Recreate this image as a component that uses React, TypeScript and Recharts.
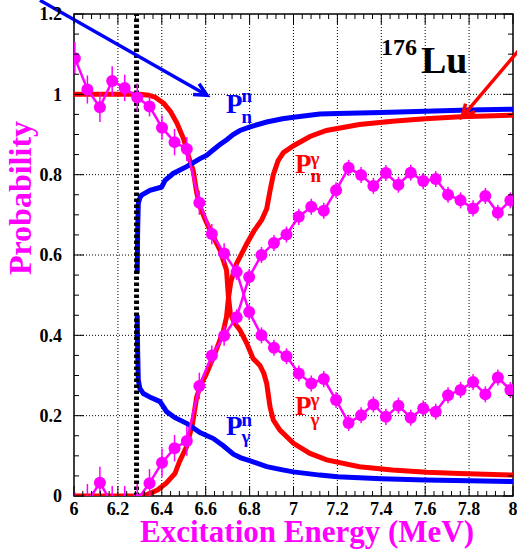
import {
  LineChart,
  Line,
  XAxis,
  YAxis,
  ReferenceLine,
  ReferenceArea,
  ErrorBar,
  Customized,
} from 'recharts';

// plot frame in page pixels (the chart is pinned to the page's top-left corner)
const PLOT_LEFT = 74;
const PLOT_RIGHT = 513;
const PLOT_TOP = 14;
const PLOT_BOTTOM = 496;

const FONT = '"Liberation Serif", "Times New Roman", Times, serif';
const MAGENTA = '#ff00ff';
const RED = '#ff0000';
const BLUE = '#0000ff';

// axis ticks
const xMajorTicks = [6, 6.2, 6.4, 6.6, 6.8, 7, 7.2, 7.4, 7.6, 7.8, 8];
const yMajorTicks = [0, 0.2, 0.4, 0.6, 0.8, 1, 1.2];

// measured probabilities (magenta points with error bars)
const energy = [
  6.004, 6.061, 6.118, 6.174, 6.231, 6.288, 6.344, 6.401, 6.458, 6.514, 6.571, 6.628,
  6.684, 6.741, 6.798, 6.854, 6.911, 6.968, 7.024, 7.081, 7.138, 7.194, 7.251, 7.308,
  7.364, 7.421, 7.478, 7.534, 7.591, 7.648, 7.704, 7.761, 7.818, 7.874, 7.931, 7.988,
];
const gammaMeas = [
  1.09, 1.012, 0.968, 1.033, 1.016, 0.992, 0.97, 0.917, 0.881, 0.864, 0.73, 0.652,
  0.604, 0.558, 0.458, 0.4, 0.369, 0.348, 0.305, 0.28, 0.291, 0.239, 0.182, 0.201,
  0.228, 0.197, 0.225, 0.195, 0.218, 0.21, 0.251, 0.264, 0.284, 0.253, 0.295, 0.264,
];
const gammaErr = [
  0.04, 0.035, 0.037, 0.037, 0.033, 0.035, 0.025, 0.03, 0.033, 0.03, 0.03, 0.025,
  0.025, 0.02, 0.02, 0.02, 0.02, 0.02, 0.02, 0.02, 0.02, 0.02, 0.02, 0.02,
  0.02, 0.02, 0.02, 0.02, 0.02, 0.02, 0.02, 0.02, 0.02, 0.02, 0.02, 0.02,
];
const neutronMeas = [
  -0.03, -0.015, 0.033, -0.02, -0.02, -0.01, 0.032, 0.083, 0.119, 0.137, 0.274, 0.35,
  0.399, 0.445, 0.545, 0.6, 0.63, 0.651, 0.695, 0.72, 0.71, 0.761, 0.817, 0.799,
  0.772, 0.804, 0.775, 0.805, 0.784, 0.789, 0.75, 0.736, 0.716, 0.747, 0.705, 0.736,
];
const neutronErr = [
  0.04, 0.045, 0.04, 0.045, 0.045, 0.04, 0.035, 0.035, 0.033, 0.037, 0.033, 0.025,
  0.025, 0.02, 0.02, 0.02, 0.02, 0.02, 0.02, 0.02, 0.02, 0.02, 0.02, 0.02,
  0.02, 0.02, 0.02, 0.02, 0.02, 0.02, 0.02, 0.02, 0.02, 0.02, 0.02, 0.02,
];

// model curves
const pnnE = [
  6.288, 6.29, 6.293, 6.3, 6.308, 6.346, 6.392, 6.4, 6.415, 6.452, 6.513, 6.574, 6.604,
  6.635, 6.665, 6.696, 6.725, 6.756, 6.802, 6.878, 6.95, 7.0, 7.12, 7.2, 7.4, 7.6, 7.8, 8.0,
];
const pnnP = [
  0.554, 0.66, 0.728, 0.742, 0.749, 0.761, 0.768, 0.77, 0.786, 0.803, 0.82, 0.84, 0.848,
  0.862, 0.875, 0.887, 0.9, 0.91, 0.919, 0.931, 0.939, 0.943, 0.951, 0.952, 0.955, 0.958, 0.961, 0.963,
];
const pgnE = [
  6.288, 6.29, 6.293, 6.3, 6.316, 6.35, 6.392, 6.422, 6.46, 6.513, 6.574, 6.635, 6.68,
  6.726, 6.76, 6.8, 6.878, 6.95, 7.0, 7.12, 7.2, 7.4, 7.6, 7.8, 8.0,
];
const pgnP = [
  0.45, 0.36, 0.289, 0.268, 0.255, 0.245, 0.235, 0.21, 0.195, 0.181, 0.158, 0.143, 0.125,
  0.104, 0.095, 0.088, 0.073, 0.065, 0.06, 0.052, 0.048, 0.043, 0.04, 0.038, 0.036,
];
const pggE = [
  6.0, 6.3, 6.34, 6.37, 6.41, 6.44, 6.47, 6.5, 6.52, 6.543, 6.559, 6.574, 6.6, 6.62,
  6.665, 6.695, 6.703, 6.712, 6.73, 6.756, 6.787, 6.816, 6.847, 6.865, 6.878, 6.893,
  6.908, 6.938, 7.0, 7.075, 7.151, 7.3, 7.45, 7.607, 7.758, 8.0,
];
const pggP = [
  1.0, 1.0, 0.998, 0.993, 0.977, 0.957, 0.927, 0.888, 0.848, 0.811, 0.755, 0.72, 0.685, 0.662,
  0.612, 0.562, 0.5, 0.455, 0.432, 0.413, 0.38, 0.342, 0.325, 0.305, 0.28, 0.222,
  0.189, 0.164, 0.131, 0.106, 0.09, 0.073, 0.065, 0.059, 0.056, 0.052,
];
const pngE = [
  6.0, 6.3, 6.33, 6.38, 6.42, 6.46, 6.48, 6.513, 6.54, 6.559, 6.58, 6.6, 6.635, 6.68,
  6.695, 6.703, 6.715, 6.741, 6.787, 6.82, 6.855, 6.878, 6.893, 6.908, 6.93, 6.954,
  7.0, 7.075, 7.15, 7.3, 7.45, 7.6, 7.76, 8.0,
];
const pngP = [
  0, 0, 0.003, 0.015, 0.032, 0.056, 0.085, 0.123, 0.18, 0.247, 0.28, 0.3, 0.345, 0.41,
  0.446, 0.49, 0.535, 0.579, 0.628, 0.66, 0.687, 0.715, 0.76, 0.8, 0.835, 0.855,
  0.872, 0.895, 0.91, 0.925, 0.933, 0.939, 0.944, 0.948,
];

const threshold = 6.285;

const toPoints = (xs: number[], ys: number[], errs?: number[]) =>
  xs.map((e, i) => ({ e, p: ys[i], err: errs ? errs[i] : 0 }));

// error bars are not clipped by the plot area, so stop them at y = 0
const clippedErr = (d: any) => [Math.min(d.err, d.p), d.err];

const subdivide = (majors: number[], n: number) => {
  const out: number[] = [];
  for (let i = 0; i < majors.length - 1; i++) {
    const step = (majors[i + 1] - majors[i]) / n;
    for (let k = 0; k < n; k++) out.push(Math.round((majors[i] + k * step) * 1000) / 1000);
  }
  out.push(majors[majors.length - 1]);
  return out;
};

const xTicks = subdivide(xMajorTicks, 5);
const yTicks = subdivide(yMajorTicks, 4);
const isMajor = (majors: number[], v: number) => majors.some((m) => Math.abs(m - v) < 1e-6);
const fmt = (v: number) => String(Math.round(v * 10) / 10);

function XTick({ x, payload }: any) {
  const major = isMajor(xMajorTicks, payload.value);
  const len = major ? 10 : 5;
  return (
    <g>
      <line x1={x} x2={x} y1={PLOT_BOTTOM} y2={PLOT_BOTTOM - len} stroke="#000" strokeWidth={1} />
      <line x1={x} x2={x} y1={PLOT_TOP} y2={PLOT_TOP + len} stroke="#000" strokeWidth={1} />
      {major && (
        <text x={x} y={PLOT_BOTTOM + 19} textAnchor="middle" fontFamily={FONT} fontWeight="bold" fontSize={18} fill="#000">
          {fmt(payload.value)}
        </text>
      )}
    </g>
  );
}

function YTick({ y, payload }: any) {
  const major = isMajor(yMajorTicks, payload.value);
  const len = major ? 10 : 5;
  return (
    <g>
      <line x1={PLOT_LEFT} x2={PLOT_LEFT + len} y1={y} y2={y} stroke="#000" strokeWidth={1} />
      <line x1={PLOT_RIGHT - len} x2={PLOT_RIGHT} y1={y} y2={y} stroke="#000" strokeWidth={1} />
      {major && (
        <text x={PLOT_LEFT - 12} y={y} dy="0.36em" textAnchor="end" fontFamily={FONT} fontWeight="bold" fontSize={18} fill="#000">
          {fmt(payload.value)}
        </text>
      )}
    </g>
  );
}

// line with a V-shaped head at its second point
function Arrow({ x1, y1, x2, y2, stroke, strokeWidth }: any) {
  const ang = Math.atan2(y2 - y1, x2 - x1);
  const L = 14;
  const s = 0.45;
  const a1 = `${x2 - L * Math.cos(ang - s)},${y2 - L * Math.sin(ang - s)}`;
  const a2 = `${x2 - L * Math.cos(ang + s)},${y2 - L * Math.sin(ang + s)}`;
  return (
    <g>
      <line x1={x1} y1={y1} x2={x2} y2={y2} stroke={stroke} strokeWidth={strokeWidth} />
      <polyline points={`${a1} ${x2},${y2} ${a2}`} fill="none" stroke={stroke} strokeWidth={strokeWidth} />
    </g>
  );
}

function PLabel({ x, y, sup, supY, sub, subY, color }: any) {
  return (
    <g fill={color} fontFamily={FONT} fontWeight="bold">
      <text x={x} y={y} fontSize={27}>P</text>
      <text x={x + 15.5} y={supY} fontSize={19}>{sup}</text>
      <text x={x + 15.5} y={subY} fontSize={19}>{sub}</text>
    </g>
  );
}

function Annotations() {
  return (
    <g>
      <PLabel x={226} y={113} sup="n" supY={102} sub="n" subY={123} color={BLUE} />
      <PLabel x={226} y={435} sup="n" supY={426} sub="γ" subY={443} color={BLUE} />
      <PLabel x={295} y={173} sup="γ" supY={165} sub="n" subY={182} color={RED} />
      <PLabel x={295} y={415} sup="γ" supY={406} sub="γ" subY={426} color={RED} />
      <g fontFamily={FONT} fontWeight="bold" fill="#000">
        <text x={381} y={55} fontSize={24}>176</text>
        <text x={421} y={73} fontSize={38}>Lu</text>
      </g>
      <text
        transform="translate(31,198) rotate(-90)"
        textAnchor="middle"
        fontFamily={FONT}
        fontWeight="bold"
        fontSize={32}
        fill={MAGENTA}
      >
        Probability
      </text>
      <text x={307} y={542} textAnchor="middle" fontFamily={FONT} fontWeight="bold" fontSize={31} fill={MAGENTA}>
        Excitation Energy (MeV)
      </text>
    </g>
  );
}

export default function App() {
  const gammaData = toPoints(energy, gammaMeas, gammaErr);
  const neutronData = toPoints(energy, neutronMeas, neutronErr);

  return (
    <div style={{ position: 'absolute', left: 0, top: 0, background: '#fff' }}>
      <LineChart width={517} height={551} margin={{ top: PLOT_TOP, right: 517 - PLOT_RIGHT, bottom: 0, left: 0 }}>
        <XAxis
          type="number"
          dataKey="e"
          domain={[6, 8]}
          ticks={xTicks}
          interval={0}
          tick={<XTick />}
          tickLine={false}
          axisLine={false}
          height={551 - PLOT_BOTTOM}
          allowDataOverflow
        />
        <YAxis
          type="number"
          dataKey="p"
          domain={[0, 1.2]}
          ticks={yTicks}
          interval={0}
          tick={<YTick />}
          tickLine={false}
          axisLine={false}
          width={PLOT_LEFT}
          allowDataOverflow
        />

        {xMajorTicks.slice(1, -1).map((v) => (
          <ReferenceLine key={`gx-${v}`} x={v} stroke="#000" strokeWidth={1} strokeDasharray="1 2" />
        ))}
        {yMajorTicks.slice(1, -1).map((v) => (
          <ReferenceLine key={`gy-${v}`} y={v} stroke="#000" strokeWidth={1} strokeDasharray="1 2" />
        ))}

        <Line data={toPoints(pggE, pggP)} dataKey="p" type="linear" stroke={RED} strokeWidth={5} dot={false} isAnimationActive={false} />
        <Line data={toPoints(pngE, pngP)} dataKey="p" type="linear" stroke={RED} strokeWidth={5} dot={false} isAnimationActive={false} />
        <Line data={toPoints(pnnE, pnnP)} dataKey="p" type="linear" stroke={BLUE} strokeWidth={5} dot={false} isAnimationActive={false} />
        <Line data={toPoints(pgnE, pgnP)} dataKey="p" type="linear" stroke={BLUE} strokeWidth={5} dot={false} isAnimationActive={false} />

        <ReferenceLine x={threshold} stroke="#000" strokeWidth={5} strokeDasharray="3.5 2.5" />

        <Line
          data={gammaData}
          dataKey="p"
          type="linear"
          stroke={MAGENTA}
          strokeWidth={2.5}
          dot={{ r: 6, fill: MAGENTA, stroke: MAGENTA, strokeWidth: 0 }}
          isAnimationActive={false}
        >
          <ErrorBar dataKey={clippedErr} direction="y" width={0} stroke={MAGENTA} strokeWidth={1.5} />
        </Line>
        <Line
          data={neutronData}
          dataKey="p"
          type="linear"
          stroke={MAGENTA}
          strokeWidth={2.5}
          dot={{ r: 6, fill: MAGENTA, stroke: MAGENTA, strokeWidth: 0 }}
          isAnimationActive={false}
        >
          <ErrorBar dataKey={clippedErr} direction="y" width={0} stroke={MAGENTA} strokeWidth={1.5} />
        </Line>

        <ReferenceLine
          segment={[{ x: 5.845, y: 1.234 }, { x: 6.606, y: 0.9975 }]}
          ifOverflow="visible"
          stroke={BLUE}
          strokeWidth={3.5}
          shape={(p: any) => <Arrow {...p} stroke={BLUE} strokeWidth={3.5} />}
        />
        <ReferenceLine
          segment={[{ x: 8.03, y: 1.112 }, { x: 7.768, y: 0.943 }]}
          ifOverflow="visible"
          stroke={RED}
          strokeWidth={3.5}
          shape={(p: any) => <Arrow {...p} stroke={RED} strokeWidth={3.5} />}
        />

        <ReferenceArea x1={6} x2={8} y1={0} y2={1.2} fill="none" stroke="#000" strokeWidth={1.5} ifOverflow="visible" />
        <Customized component={<Annotations />} />
      </LineChart>
    </div>
  );
}
